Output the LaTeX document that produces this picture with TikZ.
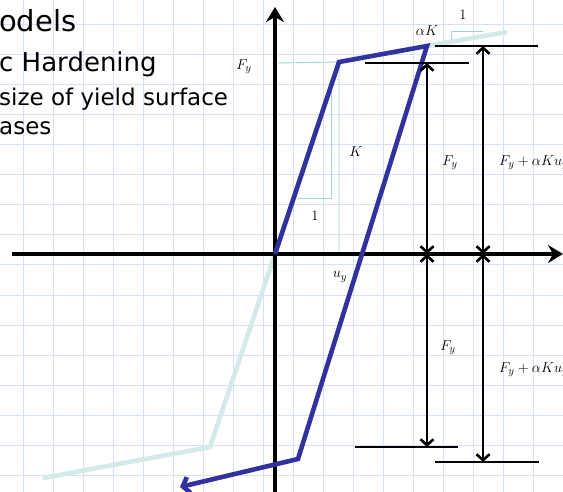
\documentclass[tikz,border=0pt]{standalone}
\usepackage{fontspec}
\usepackage{amsmath}
\newfontfamily\slidefont{DejaVu Sans}
\usetikzlibrary{arrows.meta}

\definecolor{gridblue}{RGB}{214,224,247}
\definecolor{pathblue}{RGB}{50,50,158}
\definecolor{ghostline}{RGB}{212,233,233}
\definecolor{guideline}{RGB}{160,215,212}

\begin{document}
\begin{tikzpicture}[x=1pt,y=-1pt,
    gridline/.style={draw=gridblue, line width=1pt},
    axisline/.style={line width=3.8pt, -{Stealth[length=15pt,width=18pt,inset=5pt]}},
    loadpath/.style={draw=pathblue, line width=4.6pt, line join=miter},
    ghostpath/.style={draw=ghostline, line width=4.6pt, line join=miter},
    guide/.style={draw=guideline, line width=0.9pt},
    dimline/.style={line width=2.6pt, {Straight Barb[length=6pt,width=13pt]}-{Straight Barb[length=6pt,width=13pt]}},
    limitbar/.style={line width=2.6pt},
    mlabel/.style={font=\fontsize{15}{17}\selectfont, inner sep=0pt},
    titletext/.style={anchor=base west, inner sep=0pt}]
    \useasboundingbox[fill=white] (0,0) rectangle (563,492);

    % Grid paper
    \foreach \gx in {23,53,...,563} \draw[gridline] (\gx,0) -- (\gx,492);
    \foreach \gy in {25,55,...,475} \draw[gridline] (0,\gy) -- (563,\gy);

    % Slide title (cut off at the left)
    \node[titletext, font=\slidefont\fontsize{29}{34}\selectfont] (ttlone) at (-1,32) {odels};
    \node[titletext, font=\slidefont\fontsize{26}{30}\selectfont] (ttltwo) at (-1,72) {c Hardening};
    \node[titletext, font=\slidefont\fontsize{23}{27}\selectfont] (ttlthree) at (-1,106) {size of yield surface};
    \node[titletext, font=\slidefont\fontsize{23}{27}\selectfont] (ttlfour) at (-1,135) {ases};

    % Key points
    \coordinate (origin) at (275,254);
    \coordinate (yieldpt) at (339,62);
    \coordinate (peakpt) at (427,46);
    \coordinate (ghostend) at (507,32);
    \coordinate (revpt) at (298,459);
    \coordinate (revtip) at (180,487);
    \coordinate (ghostneg) at (210,447);
    \coordinate (ghostleft) at (43,478);
    \coordinate (xleft) at (12,254);
    \coordinate (xright) at (563,254);
    \coordinate (ybot) at (275,492);
    \coordinate (ytop) at (275,7);

    % Thin guide lines and slope triangles
    \draw[guide] (278,63) -- (yieldpt) -- (339,254);
    \draw[guide] (331,84) -- (331,198) -- (298,198);
    \draw[guide] (451,40) -- (451,31) -- (483,31);

    % Elastic line continued (light)
    \draw[ghostpath] (origin) -- (ghostneg) -- (ghostleft);
    \draw[ghostpath] (peakpt) -- (ghostend);

    % Axes
    \draw[axisline] (xleft) -- (xright);
    \draw[axisline] (ybot) -- (ytop);

    % Loading path
    \draw[loadpath, -{Straight Barb[length=6pt,width=16pt]}] (origin) -- (yieldpt) -- (peakpt) -- (revpt) -- (revtip);

    % Limit bars
    \coordinate (barupa) at (435,46);  \coordinate (barupb) at (538,46);
    \coordinate (barmida) at (365,63); \coordinate (barmidb) at (469,63);
    \coordinate (barlowa) at (355,447); \coordinate (barlowb) at (458,447);
    \coordinate (barbota) at (435,462); \coordinate (barbotb) at (539,462);
    \draw[limitbar] (barupa) -- (barupb);
    \draw[limitbar] (barmida) -- (barmidb);
    \draw[limitbar] (barlowa) -- (barlowb);
    \draw[limitbar] (barbota) -- (barbotb);

    % Dimension arrows
    \coordinate (dimin) at (427,254);
    \coordinate (dimout) at (483,254);
    \draw[dimline] (dimin) -- (427,63);
    \draw[dimline] (dimin) -- (427,447);
    \draw[dimline] (dimout) -- (483,46);
    \draw[dimline] (dimout) -- (483,462);

    % Labels
    \node[mlabel] (fyleft) at (244,67) {$F_y$};
    \node[mlabel] (akslope) at (427,31) {$\alpha K$};
    \node[mlabel] (oneup) at (463,15) {$1$};
    \node[mlabel] (kslope) at (356,152) {$K$};
    \node[mlabel] (onedown) at (315,216) {$1$};
    \node[mlabel] (uylabel) at (340,277) {$u_y$};
    \node[mlabel] (fyup) at (450,163) {$F_y$};
    \node[mlabel, anchor=west] (fyakup) at (499,163) {$F_y+\alpha K u_y$};
    \node[mlabel] (fylow) at (448,348) {$F_y$};
    \node[mlabel, anchor=west] (fyaklow) at (499,370) {$F_y+\alpha K u_y$};
\end{tikzpicture}
\end{document}
